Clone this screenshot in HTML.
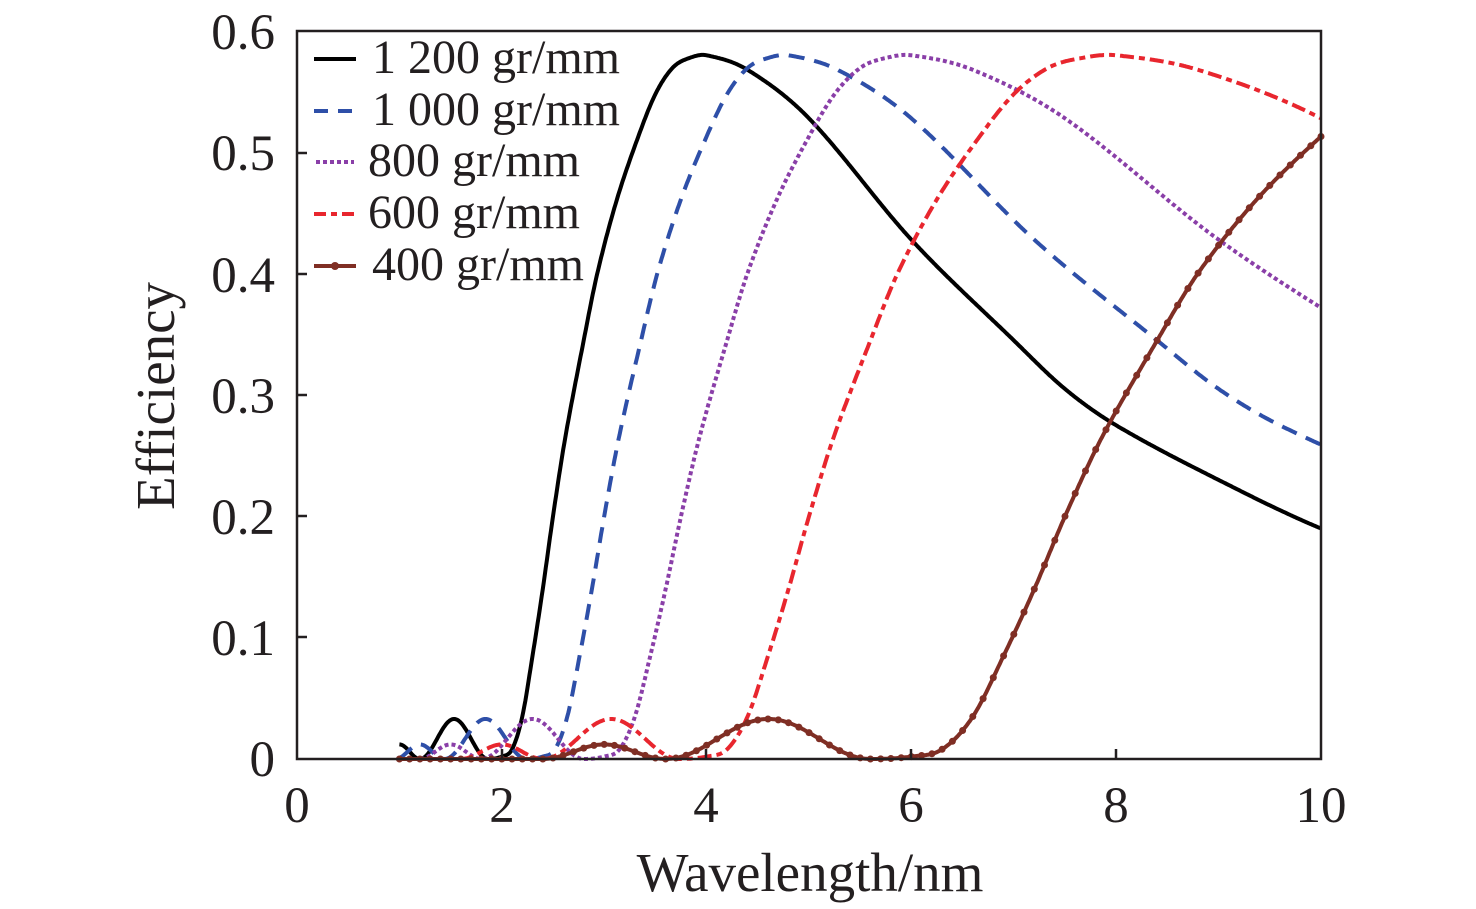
<!DOCTYPE html>
<html><head><meta charset="utf-8"><style>
html,body{margin:0;padding:0;background:#fff}
svg{display:block}
text{font-family:"Liberation Serif",serif;fill:#231f20}
</style></head><body>
<svg id="s" width="1476" height="909" viewBox="0 0 1476 909" xmlns="http://www.w3.org/2000/svg">
<g id="curves"></g>
<rect x="297" y="31" width="1024" height="728" fill="none" stroke="#231f20" stroke-width="2.5"/>
<g stroke="#231f20" stroke-width="2.5">
<line x1="297" y1="153" x2="307" y2="153"/><line x1="297" y1="274" x2="307" y2="274"/>
<line x1="297" y1="395" x2="307" y2="395"/><line x1="297" y1="516" x2="307" y2="516"/>
<line x1="297" y1="637" x2="307" y2="637"/>
<line x1="502" y1="759" x2="502" y2="749"/><line x1="706" y1="759" x2="706" y2="749"/>
<line x1="911" y1="759" x2="911" y2="749"/><line x1="1116" y1="759" x2="1116" y2="749"/>
</g>
<g font-size="51" text-anchor="end">
<text x="275" y="776">0</text><text x="275" y="655">0.1</text><text x="275" y="534">0.2</text>
<text x="275" y="413">0.3</text><text x="275" y="292">0.4</text><text x="275" y="170">0.5</text>
<text x="275" y="49">0.6</text>
</g>
<g font-size="51" text-anchor="middle">
<text x="297" y="822">0</text><text x="502" y="822">2</text><text x="706" y="822">4</text>
<text x="911" y="822">6</text><text x="1116" y="822">8</text><text x="1321" y="822">10</text>
</g>
<g font-size="55" text-anchor="middle">
<text x="810" y="891">Wavelength/nm</text>
<text transform="translate(174,396) rotate(-90)">Efficiency</text>
</g>
<g font-size="48">
<text x="372" y="73">1 200 gr/mm</text>
<text x="372" y="125">1 000 gr/mm</text>
<text x="368" y="176">800 gr/mm</text>
<text x="368" y="228">600 gr/mm</text>
<text x="372" y="280">400 gr/mm</text>
</g>
<g stroke-width="4">
<line x1="314" y1="59" x2="356" y2="59" stroke="#000"/>
<line x1="314" y1="111" x2="356" y2="111" stroke="#2e4fa8" stroke-dasharray="14 10"/>
<line x1="316" y1="162" x2="354" y2="162" stroke="#8a3fa8" stroke-dasharray="4 3"/>
<line x1="314" y1="214" x2="356" y2="214" stroke="#e8262e" stroke-dasharray="12 5 6 5"/>
<line x1="314" y1="266" x2="356" y2="266" stroke="#7f2e24"/>
<circle cx="335" cy="266" r="4" fill="#7f2e24"/>
</g>
</svg>
<script>
var T=[[0.467,0],[0.5,0.002],[0.525,0.008],[0.55,0.035],[0.575,0.085],[0.6,0.14],[0.625,0.2],[0.655,0.265],[0.7,0.345],[0.733,0.40],[0.78,0.46],[0.83,0.51],[0.875,0.548],[0.918,0.57],[0.96,0.578],[1,0.58],[1.1,0.568],[1.25,0.528],[1.5,0.428],[1.75,0.345],[1.875,0.305],[2,0.275],[2.25,0.23],[2.5,0.19],[2.75,0.16]];
function g(u){
 if(u<0.2)return 0;
 if(u<0.3){var s=Math.sin(Math.PI*(u-0.2)/0.1);return 0.012*s*s;}
 if(u<0.467){var s=Math.sin(Math.PI*(u-0.3)/0.167);return 0.033*s*s;}
 for(var i=1;i<T.length;i++){if(u<=T[i][0]){
  var p0=T[Math.max(i-2,0)],p1=T[i-1],p2=T[i],p3=T[Math.min(i+1,T.length-1)];
  var h=p2[0]-p1[0],t=(u-p1[0])/h;
  var m1=(p2[1]-p0[1])/(p2[0]-p0[0])*h, m2=(p3[1]-p1[1])/(p3[0]-p1[0])*h;
  if(i==1)m1=0;
  var t2=t*t,t3=t2*t;
  return (2*t3-3*t2+1)*p1[1]+(t3-2*t2+t)*m1+(-2*t3+3*t2)*p2[1]+(t3-t2)*m2;}}
 return 0.16;
}
function X(l){return 297+l*102.4}function Y(v){return 759-v*1213.3}
var S=[[4,"#000","none"],[4.8,"#2e4fa8","16 10"],[6,"#8a3fa8","4 3"],[8,"#e8262e","14 5 6 5"],[12,"#7f2e24","none"]];
var h="";
S.forEach(function(s){var p=[];for(var l=1;l<=10.0001;l+=0.01){p.push(X(l).toFixed(1)+","+Y(g(l/s[0])).toFixed(1));}
h+='<polyline fill="none" stroke="'+s[1]+'" stroke-width="4" stroke-linejoin="round" stroke-dasharray="'+s[2]+'" points="'+p.join(" ")+'"/>';});
for(var l=1;l<=10.0001;l+=0.1){h+='<circle cx="'+X(l).toFixed(1)+'" cy="'+Y(g(l/12)).toFixed(1)+'" r="3.5" fill="#7f2e24"/>';}
document.getElementById("curves").innerHTML=h;
</script>
</body></html>
